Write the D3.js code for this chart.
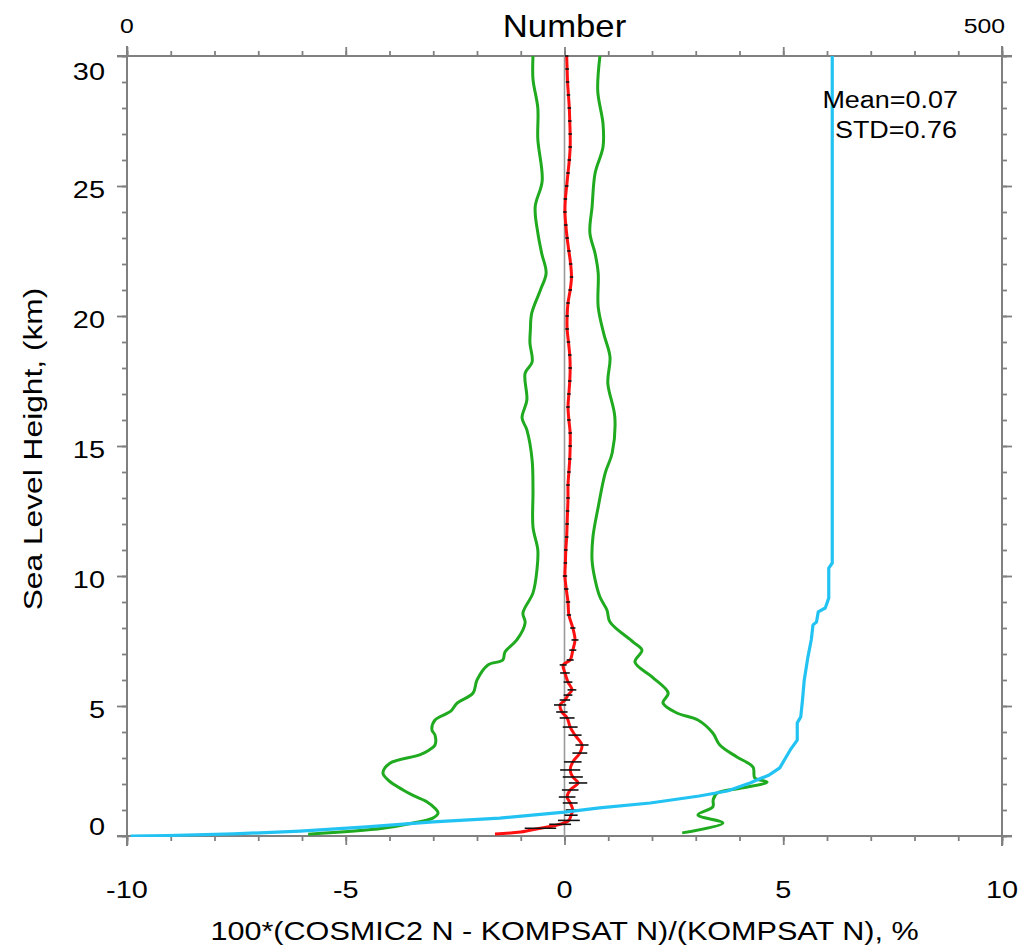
<!DOCTYPE html>
<html><head><meta charset="utf-8">
<script src="https://cdn.jsdelivr.net/npm/d3@7"></script>
<style>body{margin:0;background:#fff}svg{display:block}text{font-family:"Liberation Sans",Arial,Helvetica,sans-serif;fill:#000}</style>
</head><body><svg id="c" width="1021" height="951"></svg>
<script>
// ---------------- data ----------------
const diffTicks = [-10, -5, 0, 5, 10];
const heightTicks = [0, 5, 10, 15, 20, 25, 30];
const numberLabels = [0, 500];
const topTitle = "Number";
const xTitle = "100*(COSMIC2 N - KOMPSAT N)/(KOMPSAT N), %";
const yTitle = "Sea Level Height, (km)";
const statsText = ["Mean=0.07", "STD=0.76"];

// mean - STD  [height km, %]
const stdLow = [[0.07,-5.86],[0.3,-4.15],[0.5,-3.46],[0.69,-3.01],[0.88,-2.89],[1.05,-2.95],[1.31,-3.14],[1.55,-3.45],[1.77,-3.69],[2.15,-4.03],[2.42,-4.15],[2.8,-3.99],[3.12,-3.31],[3.3,-3.1],[3.5,-2.96],[3.88,-2.96],[4.08,-3.03],[4.46,-2.96],[4.8,-2.6],[5.1,-2.46],[5.5,-2.09],[6.0,-2.0],[6.58,-1.75],[6.77,-1.41],[7.08,-1.36],[7.54,-1.09],[8.2,-0.9],[8.58,-0.95],[9.35,-0.72],[10.23,-0.63],[11.0,-0.61],[11.88,-0.72],[13.3,-0.72],[14.46,-0.74],[15.62,-0.86],[16.08,-0.97],[16.77,-0.86],[17.8,-0.9],[18.23,-0.74],[18.96,-0.79],[19.46,-0.78],[20.1,-0.75],[21.0,-0.55],[21.65,-0.42],[22.4,-0.52],[23.2,-0.61],[24.2,-0.67],[25.2,-0.51],[26.8,-0.61],[28.0,-0.61],[29.1,-0.72],[30,-0.72]];
// mean + STD  [height km, %]
const stdHigh = [[0.12,2.69],[0.5,3.62],[0.81,3.05],[1.12,3.39],[1.4,3.4],[1.65,3.49],[1.85,4.08],[2.08,4.63],[2.23,4.35],[2.65,4.31],[3.04,3.94],[3.5,3.55],[3.96,3.39],[4.46,3.05],[4.73,2.57],[5.12,2.25],[5.5,2.37],[6.12,2.0],[6.69,1.61],[7.15,1.77],[7.46,1.57],[8.23,1.04],[8.69,0.97],[9.19,0.81],[9.85,0.7],[10.6,0.63],[11.5,0.65],[12.65,0.77],[13.96,0.93],[14.73,1.09],[16.12,1.15],[17.42,0.99],[18.42,1.04],[19.3,0.9],[20.35,0.77],[21.65,0.77],[22.4,0.7],[23.2,0.58],[24.2,0.63],[25.5,0.7],[26.5,0.88],[27.4,0.88],[28.65,0.76],[30,0.81]];
// mean difference [height km, %, half error bar %]
const meanDiff = [[0.08,-1.59,0],[0.15,-1.0,0],[0.3,-0.55,0.36],[0.45,-0.1,0.25],[0.6,0.1,0.25],[0.8,0.15,0.15],[1.0,0.19,0.16],[1.27,0.13,0.17],[1.5,0.06,0.19],[1.77,0.13,0.19],[2.04,0.31,0.21],[2.27,0.19,0.23],[2.54,0.13,0.23],[2.85,0.19,0.2],[3.19,0.35,0.17],[3.5,0.4,0.15],[3.88,0.24,0.15],[4.19,0.13,0.17],[4.54,0.06,0.17],[4.77,-0.06,0.13],[5.04,-0.1,0.14],[5.23,0.01,0.12],[5.42,0.08,0.1],[5.62,0.17,0.1],[5.92,0.08,0.1],[6.27,0.01,0.11],[6.58,-0.03,0.08],[6.77,0.13,0.08],[7.15,0.19,0.08],[7.54,0.24,0.08],
 [8.0,0.19,0.06],[8.5,0.1,0.05],[9.0,0.08,0.05],[9.5,0.04,0.05],[10.0,0.01,0.05],[10.5,0.02,0.04],[11.0,0.03,0.04],[11.5,0.05,0.04],[12.0,0.06,0.04],[12.5,0.07,0.04],[13.0,0.08,0.04],[13.5,0.08,0.04],[14.0,0.1,0.04],[14.5,0.12,0.04],[15.0,0.13,0.04],[15.5,0.13,0.04],[16.0,0.1,0.04],[16.5,0.08,0.04],[17.0,0.1,0.04],[17.5,0.12,0.04],[18.0,0.13,0.04],[18.5,0.12,0.04],[19.0,0.09,0.04],[19.5,0.06,0.04],[20.0,0.06,0.04],[20.5,0.08,0.04],[21.0,0.13,0.04],[21.5,0.16,0.04],[22.0,0.14,0.04],[22.5,0.1,0.04],[23.0,0.06,0.04],[23.5,0.03,0.04],[24.0,0.01,0.04],[24.5,0.02,0.04],[25.0,0.05,0.04],[25.5,0.08,0.04],[26.0,0.11,0.04],[26.5,0.13,0.04],[27.0,0.13,0.04],[27.5,0.12,0.04],[28.0,0.11,0.04],[28.5,0.09,0.04],[29.0,0.07,0.04],[29.5,0.06,0.04],[30.0,0.05,0.04]];
// number of samples [height km, count]
const counts = [[0.0,2],[0.02,23],[0.08,61],[0.19,99],[0.35,137],[0.54,175],[0.69,213],[0.92,250],[1.08,270],[1.27,299],[1.54,327],[1.73,343],[2.04,356],[2.35,367],[2.62,373],[3.31,379],[3.69,383],[4.35,383],[4.58,385],[5.23,386],[6.0,387],[6.85,389],[7.54,391],[8.12,392],[8.23,394],[8.62,395],[8.77,399],[9.15,401],[10.3,401],[10.5,403],[30,403]];

// ---------------- chart ----------------
const W = 1021, H = 951, m = {l:127, r:19, t:56, b:115};
const AX = "#808080", SX = 1.18;
const svg = d3.select("#c");
const x = d3.scaleLinear().domain([-10, 10]).range([m.l, W - m.r]);
const y = d3.scaleLinear().domain([0, 30]).range([H - m.b, m.t]);
const xn = d3.scaleLinear().domain([0, 500]).range([m.l, W - m.r]);

function ticks(gen, tr, vals, size) {
  svg.append("g").attr("transform", tr)
    .call(gen.tickValues(vals).tickSize(size).tickSizeOuter(0).tickFormat(""))
    .call(g => { g.select(".domain").remove(); g.selectAll("line").attr("stroke", AX).attr("stroke-width", 1.8); });
}
ticks(d3.axisBottom(x), `translate(0,${y(0)})`, d3.range(-10, 11, 1), 5);
ticks(d3.axisBottom(x), `translate(0,${y(0)})`, diffTicks, 9);
ticks(d3.axisTop(xn), `translate(0,${y(30)})`, d3.range(0, 501, 25), 5);
ticks(d3.axisTop(xn), `translate(0,${y(30)})`, d3.range(0, 501, 125), 9);
ticks(d3.axisLeft(y), `translate(${x(-10)},0)`, d3.range(0, 31, 1), 5);
ticks(d3.axisLeft(y), `translate(${x(-10)},0)`, heightTicks, 10);
ticks(d3.axisRight(y), `translate(${x(10)},0)`, d3.range(0, 31, 1), 5);
ticks(d3.axisRight(y), `translate(${x(10)},0)`, heightTicks, 10);

// frame lines (extending slightly past corners)
const ext = 10;
const frame = svg.append("g").attr("stroke", AX).attr("stroke-width", 2);
frame.append("line").attr("x1", x(-10) - ext).attr("x2", x(10) + ext).attr("y1", y(0)).attr("y2", y(0));
frame.append("line").attr("x1", x(-10) - ext).attr("x2", x(10) + ext).attr("y1", y(30)).attr("y2", y(30));
frame.append("line").attr("x1", x(-10)).attr("x2", x(-10)).attr("y1", y(30) - ext).attr("y2", y(0) + ext);
frame.append("line").attr("x1", x(10)).attr("x2", x(10)).attr("y1", y(30) - ext).attr("y2", y(0) + ext);

// zero line
svg.append("line").attr("x1", x(0)).attr("x2", x(0)).attr("y1", y(0)).attr("y2", y(30))
  .attr("stroke", "#9a9a9a").attr("stroke-width", 1.6);

svg.append("defs").append("clipPath").attr("id", "pc").append("rect")
  .attr("x", x(-10)).attr("y", y(30) - 1).attr("width", x(10) - x(-10)).attr("height", y(0) - y(30) + 2);
const plot = svg.append("g").attr("clip-path", "url(#pc)");

const smooth = d3.line().x(d => x(d[1])).y(d => y(d[0])).curve(d3.curveCatmullRom.alpha(0.5));
plot.append("path").datum(stdLow).attr("d", smooth).attr("fill", "none").attr("stroke", "#1faa1f").attr("stroke-width", 3).attr("stroke-linejoin", "round");
plot.append("path").datum(stdHigh).attr("d", smooth).attr("fill", "none").attr("stroke", "#1faa1f").attr("stroke-width", 3).attr("stroke-linejoin", "round");
plot.append("path").datum(meanDiff).attr("d", smooth).attr("fill", "none").attr("stroke", "#ff1010").attr("stroke-width", 3).attr("stroke-linejoin", "round");
plot.append("g").selectAll("line").data(meanDiff.filter(d => d[2] > 0)).join("line")
  .attr("x1", d => x(d[1] - d[2])).attr("x2", d => x(d[1] + d[2]))
  .attr("y1", d => y(d[0])).attr("y2", d => y(d[0]))
  .attr("stroke", "#111").attr("stroke-width", 1.6);
const cl = d3.line().x(d => xn(d[1])).y(d => y(d[0]));
plot.append("path").datum(counts).attr("d", cl).attr("fill", "none").attr("stroke", "#22c3f2").attr("stroke-width", 3.2).attr("stroke-linejoin", "round");

// ---------------- text ----------------
function label(px, py, str, size, anchor, rot, sx) {
  svg.append("g").attr("transform", `translate(${px},${py})` + (rot ? " rotate(-90)" : ""))
    .append("text").attr("transform", `scale(${sx == null ? SX : sx},1)`)
    .attr("text-anchor", anchor).attr("font-size", size).text(str);
}
diffTicks.forEach(v => label(x(v), y(0) + 62, String(v), 24.5, "middle"));
heightTicks.forEach(v => label(x(-10) - 22, y(v) + (v === 30 ? 24 : v === 0 ? -1 : 12), String(v), 24.5, "end"));
label(xn(numberLabels[0]), 33, String(numberLabels[0]), 21, "middle");
label(xn(numberLabels[1]) + 3, 33, String(numberLabels[1]), 21, "end");
label(x(0), 37, topTitle, 31, "middle", false, 1.12);
label(x(0), 940, xTitle, 25.5, "middle", false, 1.2);
label(42, (y(0) + y(30)) / 2 + 3, yTitle, 26, "middle", true, 1.22);
label(958, 108, statsText[0], 24.5, "end", false, 1.1);
label(957, 138, statsText[1], 24.5, "end", false, 1.1);
</script></body></html>
